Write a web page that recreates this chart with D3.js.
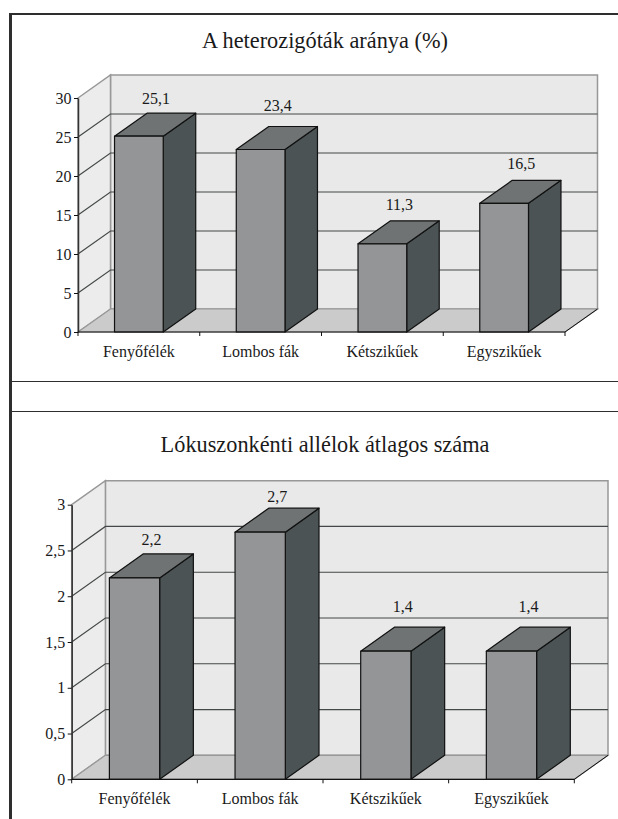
<!DOCTYPE html>
<html>
<head>
<meta charset="utf-8">
<script src="https://cdn.jsdelivr.net/npm/d3@7/dist/d3.min.js"></script>
<style>
html, body { margin: 0; padding: 0; background: #fff; }
svg { display: block; }
text { font-family: "Liberation Serif", "Times New Roman", serif; fill: #1a1a1a; }
</style>
</head>
<body>
<svg id="page" width="618" height="819"></svg>
<script>
// Values per plant group
const categories = ["Fenyőfélék", "Lombos fák", "Kétszikűek", "Egyszikűek"];
const heterozygotes = [25.1, 23.4, 11.3, 16.5];
const allelesPerLocus = [2.2, 2.7, 1.4, 1.4];
const heterozygoteTicks = [0, 5, 10, 15, 20, 25, 30];
const alleleTicks = [0, 0.5, 1, 1.5, 2, 2.5, 3];

const colors = {
  wall: "#e9e9e9", sideWall: "#ececec", floor: "#cbcbcb",
  front: "#949596", top: "#6f7373", side: "#4b5354",
  frame: "#989898", grid: "#454848", ink: "#111111"
};

const svg = d3.select("#page");
const comma = v => String(v).replace(".", ",");

// Draws one pseudo-3D column chart with its walls, floor and value labels.
function columnChart(cfg) {
  const g = svg.append("g");
  const { x0, x1, y0, y1, dx, dy, values, ticks, title, titleX, titleY } = cfg;
  const x = d3.scaleBand().domain(categories).range([x0, x1]).paddingInner(0.6).paddingOuter(0.3);
  const y = d3.scaleLinear().domain([0, d3.max(ticks)]).range([y0, y1]);
  const poly = pts => pts.map(p => p.join(",")).join(" ");

  // Back wall, left wall and floor
  g.append("polygon").attr("points", poly([[x0 + dx, y1 - dy], [x1 + dx, y1 - dy], [x1 + dx, y0 - dy], [x0 + dx, y0 - dy]]))
    .attr("fill", colors.wall).attr("stroke", colors.frame).attr("stroke-width", 1.5);
  g.append("polygon").attr("points", poly([[x0, y1], [x0 + dx, y1 - dy], [x0 + dx, y0 - dy], [x0, y0]]))
    .attr("fill", colors.sideWall).attr("stroke", colors.frame).attr("stroke-width", 1.5);
  g.append("polygon").attr("points", poly([[x0, y0], [x0 + dx, y0 - dy], [x1 + dx, y0 - dy], [x1, y0]]))
    .attr("fill", colors.floor).attr("stroke", colors.frame).attr("stroke-width", 1.2);

  // Gridlines run along the left wall and then across the back wall
  g.selectAll("polyline.grid").data(ticks.filter(t => t > 0 && t < d3.max(ticks))).join("polyline")
    .attr("class", "grid").attr("fill", "none").attr("stroke", colors.grid).attr("stroke-width", 1.2)
    .attr("points", t => poly([[x0, y(t)], [x0 + dx, y(t) - dy], [x1 + dx, y(t) - dy]]));

  // Right end of the floor
  g.append("line").attr("x1", x1).attr("y1", y0).attr("x2", x1 + dx).attr("y2", y0 - dy)
    .attr("stroke", colors.ink).attr("stroke-width", 1);

  // Columns: side, top and front faces
  const rows = categories.map((c, i) => ({ c, v: values[i], lift: cfg.labelLift[i] }));
  const bars = g.selectAll("g.bar").data(rows).join("g").attr("class", "bar")
    .attr("stroke", colors.ink).attr("stroke-width", 1.2).attr("stroke-linejoin", "round");
  const w = x.bandwidth();
  bars.append("polygon").attr("fill", colors.side)
    .attr("points", d => poly([[x(d.c) + w, y(d.v)], [x(d.c) + w + dx, y(d.v) - dy], [x(d.c) + w + dx, y0 - dy], [x(d.c) + w, y0]]));
  bars.append("polygon").attr("fill", colors.top)
    .attr("points", d => poly([[x(d.c), y(d.v)], [x(d.c) + dx, y(d.v) - dy], [x(d.c) + w + dx, y(d.v) - dy], [x(d.c) + w, y(d.v)]]));
  bars.append("rect").attr("fill", colors.front)
    .attr("x", d => x(d.c)).attr("y", d => y(d.v)).attr("width", w).attr("height", d => y0 - y(d.v));

  // Value labels above each column
  g.selectAll("text.value").data(rows).join("text")
    .attr("class", "value").attr("text-anchor", "middle").style("font-size", "16px")
    .attr("x", d => x(d.c) + w / 2 + cfg.labelDx).attr("y", d => y(d.v) - dy - d.lift)
    .text(d => comma(d.v));

  // Axes
  const yAxis = d3.axisLeft(y).tickValues(ticks).tickFormat(comma).tickSize(4).tickSizeOuter(0).tickPadding(2.5);
  const yG = g.append("g").attr("transform", `translate(${x0},0)`).call(yAxis);
  const catEdges = d3.scaleLinear().domain([0, categories.length]).range([x0, x1]);
  const xAxis = d3.axisBottom(x).tickSize(0).tickPadding(cfg.catPad);
  const xG = g.append("g").attr("transform", `translate(0,${y0})`).call(xAxis);
  xG.select(".domain").remove();
  g.append("line").attr("x1", x0).attr("x2", x1).attr("y1", y0).attr("y2", y0).attr("stroke", colors.ink).attr("stroke-width", 1.2);
  g.selectAll("line.edge").data(d3.range(categories.length + 1)).join("line").attr("class", "edge")
    .attr("x1", catEdges).attr("x2", catEdges).attr("y1", y0).attr("y2", y0 + 4)
    .attr("stroke", colors.ink).attr("stroke-width", 1);
  yG.select(".domain").attr("stroke", "#333").attr("stroke-width", 1.5);
  yG.selectAll(".tick line").attr("stroke", colors.ink);
  yG.selectAll("text").style("font-size", "16px").style("font-family", "Liberation Serif").attr("fill", "#1a1a1a");
  xG.selectAll("text").style("font-size", "16px").style("font-family", "Liberation Serif").attr("fill", "#1a1a1a");

  g.append("text").attr("text-anchor", "middle").attr("x", titleX).attr("y", titleY)
    .style("font-size", "22.3px").text(title);
}

// Page rules around and between the two charts
const rules = [
  [10.5, 13, 10.5, 819, 3], [9, 14, 618, 14, 2],
  [11, 381.5, 618, 381.5, 1], [11, 411.5, 618, 411.5, 1]
];
svg.selectAll("line.rule").data(rules).join("line").attr("class", "rule")
  .attr("x1", d => d[0]).attr("y1", d => d[1]).attr("x2", d => d[2]).attr("y2", d => d[3])
  .attr("stroke", "#2e2e2e").attr("stroke-width", d => d[4]);

columnChart({
  title: "A heterozigóták aránya (%)", titleX: 325, titleY: 47.5,
  values: heterozygotes, ticks: heterozygoteTicks, labelLift: [9, 15.7, 10.7, 11.7],
  x0: 78, x1: 565, y0: 332, y1: 98, dx: 32.5, dy: 23, labelDx: 17, catPad: 14
});
columnChart({
  title: "Lókuszonkénti allélok átlagos száma", titleX: 325, titleY: 451.5,
  values: allelesPerLocus, ticks: alleleTicks, labelLift: [8.7, 6, 15, 15],
  x0: 71.7, x1: 574.3, y0: 779.3, y1: 504.7, dx: 33.7, dy: 24, labelDx: 17, catPad: 13
});
</script>
</body>
</html>
